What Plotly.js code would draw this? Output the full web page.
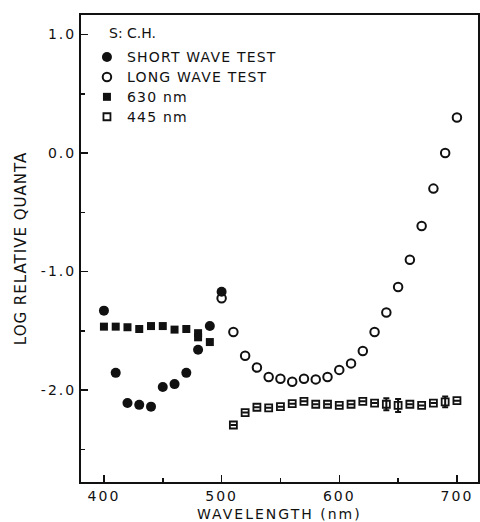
<!DOCTYPE html>
<html>
<head>
<meta charset="utf-8">
<script src="https://cdn.plot.ly/plotly-3.0.1.min.js"></script>
<style>
html,body{margin:0;padding:0;background:#fff;}
#chart{width:480px;height:522px;}
text.legendtext{font-size:14px !important;letter-spacing:1.2px;}
text.ytitle{letter-spacing:1px;}
g.xtick text, g.ytick text{letter-spacing:2px;}
</style>
</head>
<body>
<div id="chart"></div>
<script>
// Wavelengths (nm) and log relative quanta
var shortWaveX = [400, 410, 420, 430, 440, 450, 460, 470, 480, 490, 500];
var shortWaveY = [-1.33, -1.855, -2.11, -2.125, -2.14, -1.975, -1.95, -1.855, -1.66, -1.46, -1.17];

var longWaveX = [500, 510, 520, 530, 540, 550, 560, 570, 580, 590, 600, 610, 620, 630, 640, 650, 660, 670, 680, 690, 700];
var longWaveY = [-1.225, -1.51, -1.71, -1.81, -1.89, -1.905, -1.93, -1.905, -1.91, -1.89, -1.83, -1.775, -1.67, -1.51, -1.345, -1.13, -0.9, -0.615, -0.3, 0.0, 0.3];

var bg630X = [400, 410, 420, 430, 440, 450, 460, 470, 480, 480, 490];
var bg630Y = [-1.465, -1.465, -1.47, -1.485, -1.46, -1.46, -1.49, -1.485, -1.52, -1.555, -1.595];

var bg445X = [510, 520, 530, 540, 550, 560, 570, 580, 590, 600, 610, 620, 630, 640, 650, 660, 670, 680, 690, 700];
var bg445Y = [-2.295, -2.19, -2.145, -2.15, -2.14, -2.115, -2.095, -2.12, -2.12, -2.13, -2.12, -2.095, -2.11, -2.12, -2.13, -2.12, -2.13, -2.11, -2.1, -2.09];
var bg445Err = [0, 0, 0, 0, 0, 0, 0, 0, 0, 0, 0, 0, 0, 0.05, 0.055, 0, 0, 0, 0.045, 0];

var legendNames = ["SHORT WAVE TEST", "LONG WAVE TEST", "630 nm", "445 nm"];
var subjectLabel = "S: C.H.";
var xTitle = "WAVELENGTH (nm)";
var yTitle = "LOG RELATIVE QUANTA";
var xTickVals = [400, 500, 600, 700];
var yTickVals = [1.0, 0.0, -1.0, -2.0];
var yTickText = ["1.0", "0.0", "-1.0", "-2.0"];

var FONT = "DejaVu Sans, Arial, sans-serif";
var INK = "#111";

var traces = [
  {x: longWaveX, y: longWaveY, mode: "markers", name: legendNames[1], legendrank: 2,
   marker: {symbol: "circle-open", size: 8.5, color: INK, line: {width: 2, color: INK}}},
  {x: shortWaveX, y: shortWaveY, mode: "markers", name: legendNames[0], legendrank: 1,
   marker: {symbol: "circle", size: 10, color: INK}},
  {x: bg630X, y: bg630Y, mode: "markers", name: legendNames[2], legendrank: 3,
   marker: {symbol: "square", size: 8, color: INK}},
  {x: bg445X, y: bg445Y, mode: "markers", name: legendNames[3], legendrank: 4,
   marker: {symbol: "square-open", size: 7, color: INK, line: {width: 1.8, color: INK}},
   error_y: {type: "data", array: bg445Err, visible: true, color: INK, thickness: 2, width: 3}}
];

var layout = {
  width: 480, height: 522,
  margin: {l: 81, r: 2, t: 15, b: 40},
  paper_bgcolor: "#fff", plot_bgcolor: "#fff",
  font: {family: FONT, size: 14, color: INK},
  showlegend: true,
  legend: {x: 0.015, y: 0.942, xanchor: "left", yanchor: "top", bgcolor: "rgba(0,0,0,0)",
           font: {family: FONT, size: 13, color: INK}, tracegroupgap: 0, itemsizing: "trace",
           traceorder: "normal"},
  xaxis: {range: [380.5, 717.9], tickvals: xTickVals, ticks: "inside", ticklen: 7, tickwidth: 1.5,
          tickcolor: INK, showline: true, linecolor: INK, linewidth: 2, mirror: true,
          showgrid: false, zeroline: false, tickfont: {family: FONT, size: 14, color: INK},
          minor: {dtick: 50, ticks: "inside", ticklen: 4, tickwidth: 1.5, tickcolor: INK, showgrid: false}},
  yaxis: {range: [-2.776, 1.165], tickvals: yTickVals, ticktext: yTickText, ticks: "inside", ticklen: 7,
          tickwidth: 1.5, tickcolor: INK, showline: true, linecolor: INK, linewidth: 2, mirror: true,
          showgrid: false, zeroline: false, tickfont: {family: FONT, size: 14, color: INK},
          minor: {dtick: 0.5, ticks: "inside", ticklen: 4, tickwidth: 1.5, tickcolor: INK, showgrid: false},
          title: {text: yTitle, font: {family: FONT, size: 15, color: INK}, standoff: 11}},
  annotations: [
    {text: subjectLabel, xref: "paper", yref: "paper", x: 0.065, y: 0.9615, xanchor: "left", yanchor: "middle",
     showarrow: false, font: {family: FONT, size: 14, color: INK}},
    {text: xTitle, xref: "paper", yref: "paper", x: 0.5, y: -0.0675, xanchor: "center", yanchor: "middle",
     showarrow: false, font: {family: FONT, size: 14, color: INK}}
  ]
};

Plotly.newPlot("chart", traces, layout, {staticPlot: true, displayModeBar: false}).then(function (gd) {
  var t = gd.querySelectorAll("g.annotation text");
  t.forEach(function (el) { if (el.textContent === xTitle) el.style.letterSpacing = "2px"; });
});
</script>
</body>
</html>
